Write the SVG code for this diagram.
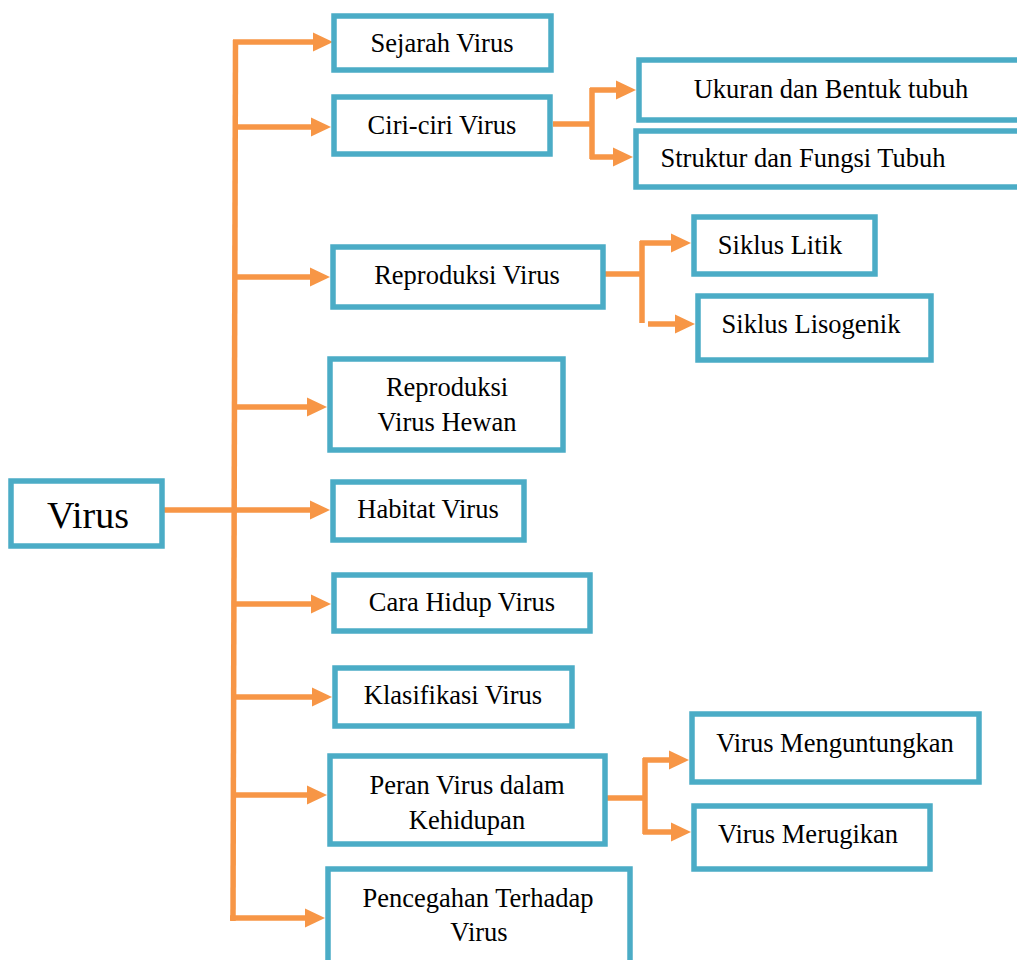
<svg xmlns="http://www.w3.org/2000/svg" width="1017" height="960" viewBox="0 0 1017 960">
<style>
.box{fill:#fff;stroke:#4BACC6;stroke-width:5.5}
.t{font-family:"Liberation Serif","Times New Roman",serif;font-size:26.5px;fill:#000;text-anchor:middle}
.big{font-size:38px}
.c{fill:none;stroke:#F79646;stroke-width:5.5}
</style>
<defs>
<marker id="ah" markerUnits="userSpaceOnUse" markerWidth="20" markerHeight="20" refX="10" refY="9.5" orient="auto" viewBox="0 0 20 19">
<path d="M0,0 L20,9.5 L0,19 Z" fill="#F79646"/>
</marker>
</defs>
<rect width="1017" height="960" fill="#fff"/>
<g id="connectors">
<path class="c" d="M235.5 40 L233 921"/>
<path class="c" d="M233 42 H323" marker-end="url(#ah)"/>
<path class="c" d="M235 127 H321" marker-end="url(#ah)"/>
<path class="c" d="M235 277 H320" marker-end="url(#ah)"/>
<path class="c" d="M234 407 H317" marker-end="url(#ah)"/>
<path class="c" d="M163 510 H320" marker-end="url(#ah)"/>
<path class="c" d="M234 604 H321" marker-end="url(#ah)"/>
<path class="c" d="M234 697 H322" marker-end="url(#ah)"/>
<path class="c" d="M234 795 H317" marker-end="url(#ah)"/>
<path class="c" d="M230 918 H315" marker-end="url(#ah)"/>
<path class="c" d="M553 124 H592"/>
<path class="c" d="M592 88 V159"/>
<path class="c" d="M590 90 H626" marker-end="url(#ah)"/>
<path class="c" d="M590 157 H623" marker-end="url(#ah)"/>
<path class="c" d="M605 274 H642"/>
<path class="c" d="M642 241 V323"/>
<path class="c" d="M640 243 H681" marker-end="url(#ah)"/>
<path class="c" d="M648 324 H685" marker-end="url(#ah)"/>
<path class="c" d="M607 798 H645"/>
<path class="c" d="M645 758 V834"/>
<path class="c" d="M643 760 H679" marker-end="url(#ah)"/>
<path class="c" d="M643 832 H681" marker-end="url(#ah)"/>
</g>
<g id="n-virus"><rect class="box" x="11" y="481" width="151" height="65"/><text class="t big" x="88" y="528">Virus</text></g>
<g id="n-sejarah"><rect class="box" x="334" y="16" width="217" height="54"/><text class="t" x="442" y="52">Sejarah Virus</text></g>
<g id="n-ciri"><rect class="box" x="334" y="97" width="216" height="57"/><text class="t" x="442" y="134">Ciri-ciri Virus</text></g>
<g id="n-ukuran"><rect class="box" x="639" y="60" width="390" height="60"/><text class="t" x="831" y="98">Ukuran dan Bentuk tubuh</text></g>
<g id="n-struktur"><rect class="box" x="636" y="131" width="393" height="56"/><text class="t" x="803" y="167">Struktur dan Fungsi Tubuh</text></g>
<g id="n-reproduksi"><rect class="box" x="333" y="247" width="270" height="60"/><text class="t" x="467" y="284">Reproduksi Virus</text></g>
<g id="n-litik"><rect class="box" x="694" y="217" width="181" height="57"/><text class="t" x="780" y="254">Siklus Litik</text></g>
<g id="n-lisogenik"><rect class="box" x="698" y="296" width="233" height="64"/><text class="t" x="811" y="333">Siklus Lisogenik</text></g>
<g id="n-hewan"><rect class="box" x="330" y="359" width="233" height="91"/><text class="t" x="447" y="396">Reproduksi</text><text class="t" x="447" y="431">Virus Hewan</text></g>
<g id="n-habitat"><rect class="box" x="333" y="482" width="191" height="58"/><text class="t" x="428" y="518">Habitat Virus</text></g>
<g id="n-cara"><rect class="box" x="334" y="575" width="256" height="56"/><text class="t" x="462" y="611">Cara Hidup Virus</text></g>
<g id="n-klasifikasi"><rect class="box" x="335" y="668" width="237" height="58"/><text class="t" x="453" y="704">Klasifikasi Virus</text></g>
<g id="n-peran"><rect class="box" x="330" y="756" width="275" height="88"/><text class="t" x="467" y="794">Peran Virus dalam</text><text class="t" x="467" y="829">Kehidupan</text></g>
<g id="n-pencegahan"><rect class="box" x="328" y="869" width="302" height="100"/><text class="t" x="478" y="907">Pencegahan Terhadap</text><text class="t" x="479" y="941">Virus</text></g>
<g id="n-untung"><rect class="box" x="692" y="714" width="287" height="68"/><text class="t" x="835" y="752">Virus Menguntungkan</text></g>
<g id="n-rugi"><rect class="box" x="694" y="806" width="236" height="63"/><text class="t" x="808" y="843">Virus Merugikan</text></g>
</svg>
